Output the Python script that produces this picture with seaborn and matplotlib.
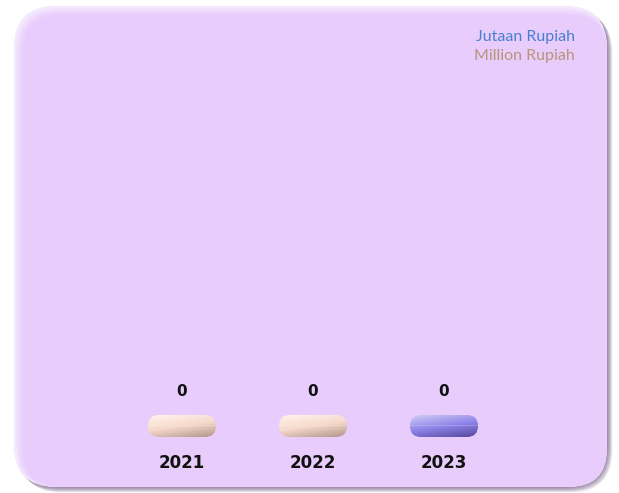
import numpy as np
import pandas as pd
import matplotlib
matplotlib.use("Agg")
import matplotlib.pyplot as plt
from matplotlib.patches import FancyBboxPatch
import seaborn as sns

years = ["2021", "2022", "2023"]
values = [0, 0, 0]
unit_id = "Jutaan Rupiah"
unit_en = "Million Rupiah"

W, H = 619, 493
sns.set_theme(style="white")
plt.rcParams['font.family'] = ['DejaVu Sans']

fig = plt.figure(figsize=(W / 100, H / 100), dpi=100)
fig.patch.set_facecolor("white")

bg = fig.add_axes([0, 0, 1, 1], zorder=0)
bg.set_xlim(0, W)
bg.set_ylim(H, 0)
bg.axis("off")

# panel shadow
px0, py0, pw, ph, rr = 14, 6, 593, 481, 42
for i in range(10):
    s = FancyBboxPatch((px0 + 0.6 * i, py0 + 0.6 * i), pw, ph,
                       boxstyle=f"round,pad=0,rounding_size={rr}",
                       fc="#5b3f70", ec="none", alpha=0.09)
    bg.add_patch(s)
# panel highlight + body
bg.add_patch(FancyBboxPatch((px0, py0), pw, ph, boxstyle=f"round,pad=0,rounding_size={rr}",
                            fc="#F4E9FE", ec="none"))
for k, c in enumerate(["#F0DFFD", "#ECD6FC", "#EAD0FC"]):
    d = (k + 1) * 2.5
    bg.add_patch(FancyBboxPatch((px0 + d, py0 + d), pw - d, ph - d,
                                boxstyle=f"round,pad=0,rounding_size={rr - d/2}",
                                fc=c, ec="none"))
bg.add_patch(FancyBboxPatch((px0 + 9, py0 + 9), pw - 10, ph - 10,
                            boxstyle=f"round,pad=0,rounding_size={rr - 5}",
                            fc="#E8CCFB", ec="none"))
# bottom-right inner shading
for k, (c, a) in enumerate([("#9C7FB0", 0.35), ("#B496C8", 0.35)]):
    pass

bg.text(575, 37, unit_id, ha="right", va="center", fontsize=11.5,
        family="Lato", color="#4A7FD0")
bg.text(575, 56, unit_en, ha="right", va="center", fontsize=11.5,
        family="Lato", color="#B8957A")

# main axes
ax_left, ax_right = 116.5, 509.5
ax_bottom_px, ax_top_px = 426, 80
ax = fig.add_axes([ax_left / W, (H - ax_bottom_px) / H,
                   (ax_right - ax_left) / W, (ax_bottom_px - ax_top_px) / H], zorder=2)
ax.patch.set_alpha(0)

df = pd.DataFrame({"year": years, "value": values})
sns.barplot(data=df, x="year", y="value", hue="year",
            palette=["#F8D8C8", "#F8D8C8", "#8F83EA"], width=0.52,
            legend=False, ax=ax)
ax.set_ylim(0, 1)
ax.set_xlim(-0.5, 2.5)
sns.despine(ax=ax, left=True, bottom=True)
ax.set_yticks([])
ax.set_xlabel("")
ax.set_ylabel("")
ax.tick_params(axis="x", length=0, pad=20.5)
for lab in ax.get_xticklabels():
    lab.set_fontsize(12)
    lab.set_fontweight("bold")
    lab.set_color("#111111")

grads = [("#FFF1EA", "#F6D9CB", "#B89A90"),
         ("#FFF1EA", "#F6D9CB", "#B89A90"),
         ("#CBC6F3", "#8F84EA", "#5A4DA3")]

pill_w, pill_h = 68, 22
for p, v, g in zip(ax.patches, values, grads):
    cx = p.get_x() + p.get_width() / 2
    dx, dy = ax.transData.transform((cx, v))
    ypix = H - dy
    x0 = dx - pill_w / 2
    y0 = ypix - pill_h / 2
    pill = FancyBboxPatch((x0, y0), pill_w, pill_h,
                          boxstyle=f"round,pad=0,rounding_size={pill_h/2}",
                          fc="none", ec="none")
    bg.add_patch(pill)
    cmap = matplotlib.colors.LinearSegmentedColormap.from_list("g", list(g))
    yy, xx = np.mgrid[0:1:60j, 0:1:120j]
    t = np.clip(0.75 * yy + 0.35 * xx - 0.05, 0, 1)
    im = bg.imshow(t, cmap=cmap, vmin=0, vmax=1, extent=[x0, x0 + pill_w, y0 + pill_h, y0],
                   aspect="auto", zorder=3, interpolation="bilinear")
    im.set_clip_path(pill)
    ax.annotate(f"{v:.0f}", (cx, v), xytext=(0, 35), textcoords="offset pixels",
                ha="center", va="center", fontsize=11, fontweight="bold", color="#111111")

bg.set_xlim(0, W)
bg.set_ylim(H, 0)
fig.savefig("out.png", dpi=100)
